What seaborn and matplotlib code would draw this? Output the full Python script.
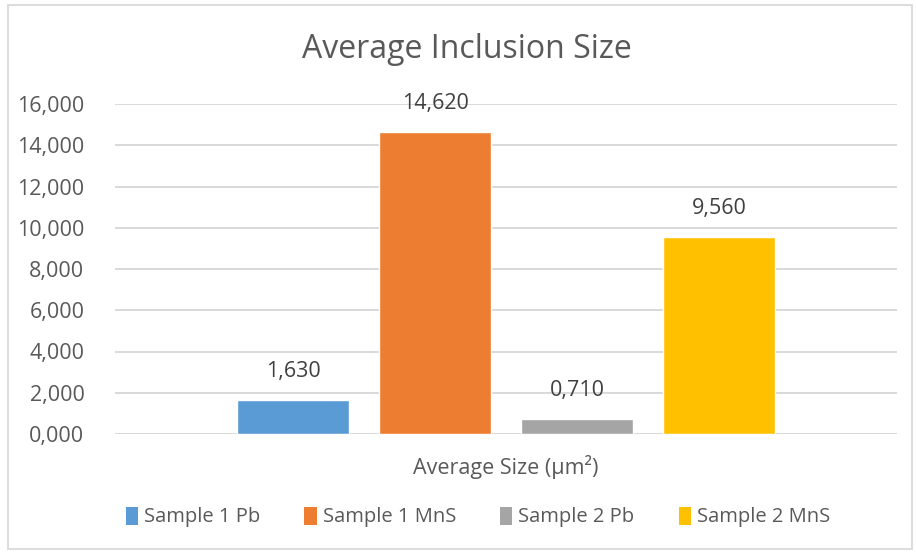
import matplotlib
matplotlib.use('Agg')
import matplotlib.pyplot as plt
import matplotlib.patches as mpatches
import pandas as pd
import seaborn as sns

# data
categories = ["Average Size (µm²)"]
series = ["Sample 1 Pb", "Sample 1 MnS", "Sample 2 Pb", "Sample 2 MnS"]
values = [1.630, 14.620, 0.710, 9.560]
colors = ["#5B9BD5", "#ED7D31", "#A5A5A5", "#FFC000"]
yticks = [0, 2, 4, 6, 8, 10, 12, 14, 16]

df = pd.DataFrame({
    "category": categories * len(series),
    "series": series,
    "value": values,
})

def comma_fmt(v):
    # european style decimal comma, three decimals
    return f"{v:.3f}".replace(".", ",")

sns.set_theme(style="white")
plt.rcParams['font.family'] = ['Open Sans', 'DejaVu Sans']
text_color = "#595959"
grid_color = "#D9D9D9"

fig = plt.figure(figsize=(9.16, 5.53), dpi=100)
ax = fig.add_axes([115 / 916, 1 - 434 / 553, 782 / 916, 330 / 553])

sns.barplot(data=df, x="category", y="value", hue="series",
            palette=colors, width=0.726, gap=0.21, ax=ax, legend=False,
            saturation=1, zorder=3)

ax.set_xlim(-0.5, 0.5)
ax.set_ylim(0, 16)
ax.set_yticks(yticks)
ax.set_yticklabels([comma_fmt(t) for t in yticks])
for y in yticks:
    ax.axhline(y, color=grid_color, lw=1.4, zorder=1)
for s in ax.spines.values():
    s.set_visible(False)
ax.tick_params(axis='y', length=0, pad=22, labelsize=15.5, labelcolor=text_color)
ax.tick_params(axis='x', length=0, pad=15, labelsize=15.5, labelcolor=text_color)
ax.set_xlabel("")
ax.set_ylabel("")

# data labels above each bar
for cont in ax.containers:
    ax.bar_label(cont, labels=[comma_fmt(v) for v in cont.datavalues],
                 padding=13, fontsize=15.5, color="#404040")

fig.text(467 / 916, 1 - 50 / 553, "Average Inclusion Size", ha="center", va="center",
         fontsize=23, color=text_color)

handles = [mpatches.Patch(facecolor=c, edgecolor='none', label=s)
           for c, s in zip(colors, series)]
fig.legend(handles=handles, loc="center", bbox_to_anchor=(478 / 916, 1 - 517 / 553),
           ncol=4, frameon=False, fontsize=14.5, labelcolor=text_color,
           handlelength=0.6, handleheight=1.0, handletextpad=0.3,
           columnspacing=2.2)

# light chart-area border like the spreadsheet export
fig.patches.append(mpatches.Rectangle((8 / 916, 4 / 553), 904 / 916, 544 / 553,
                                      transform=fig.transFigure, fill=False,
                                      edgecolor=grid_color, lw=1.3))

fig.savefig("out.png", dpi=100)
